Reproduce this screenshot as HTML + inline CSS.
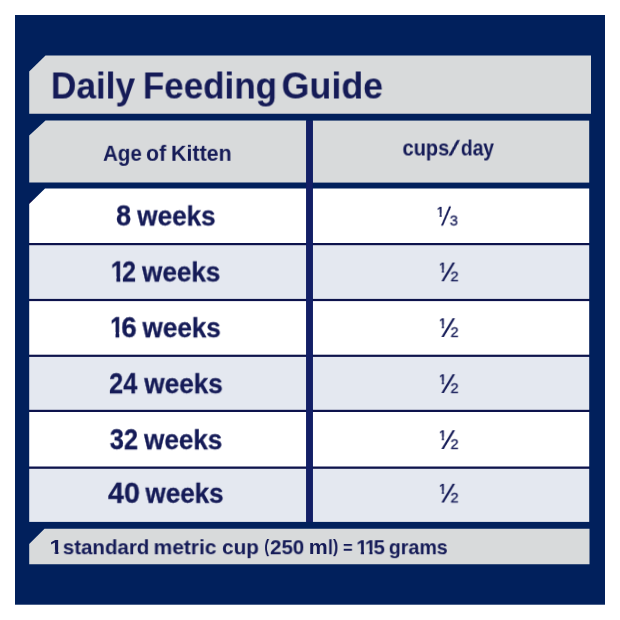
<!DOCTYPE html>
<html>
<head>
<meta charset="utf-8">
<title>Daily Feeding Guide</title>
<style>
html,body{margin:0;padding:0;background:#fff;}
body{width:620px;height:620px;position:relative;overflow:hidden;font-family:"Liberation Sans",sans-serif;color:#151b57;}
svg{position:absolute;left:0;top:0;display:block;}
.t{position:absolute;white-space:nowrap;font-weight:bold;line-height:1;transform-origin:0 0;will-change:transform;}
.fr{font-weight:normal;-webkit-text-stroke:.3px #151b57;}
.rw{-webkit-text-stroke:.3px #151b57;}
.sl{-webkit-text-stroke:.4px #151b57;}
</style>
</head>
<body>
<svg width="620" height="620" viewBox="0 0 620 620">
  <rect x="0" y="0" width="620" height="620" fill="#ffffff"/>
  <rect x="15" y="15" width="590" height="589.7" fill="#01205c"/>
  <!-- title -->
  <polygon points="45.5,55.5 591,55.5 591,113.8 29.2,113.8 29.2,71.5" fill="#d8dadb"/>
  <!-- header cells -->
  <polygon points="45.5,120.6 306.2,120.6 306.2,182.6 29.2,182.6 29.2,135.6" fill="#d8dadb"/>
  <rect x="312.8" y="120.6" width="276.4" height="62" fill="#d8dadb"/>
  <!-- thin row lines (drawn under rows as one dark band) -->
  <rect x="29.2" y="200" width="277" height="300" fill="#0d134c"/>
  <rect x="312.8" y="200" width="276.4" height="300" fill="#0d134c"/>
  <!-- rows -->
  <polygon points="45,188.5 306.2,188.5 306.2,243 29.2,243 29.2,204" fill="#ffffff"/>
  <rect x="312.8" y="188.5" width="276.4" height="54.5" fill="#ffffff"/>
  <rect x="29.2" y="245.2" width="277" height="53.7" fill="#e4e8f0"/>
  <rect x="312.8" y="245.2" width="276.4" height="53.7" fill="#e4e8f0"/>
  <rect x="29.2" y="301.1" width="277" height="53.6" fill="#ffffff"/>
  <rect x="312.8" y="301.1" width="276.4" height="53.6" fill="#ffffff"/>
  <rect x="29.2" y="356.9" width="277" height="52.9" fill="#e4e8f0"/>
  <rect x="312.8" y="356.9" width="276.4" height="52.9" fill="#e4e8f0"/>
  <rect x="29.2" y="412" width="277" height="54.5" fill="#ffffff"/>
  <rect x="312.8" y="412" width="276.4" height="54.5" fill="#ffffff"/>
  <rect x="29.2" y="468.8" width="277" height="53.1" fill="#e4e8f0"/>
  <rect x="312.8" y="468.8" width="276.4" height="53.1" fill="#e4e8f0"/>
  <!-- column divider -->
  <rect x="306.2" y="120.6" width="6.6" height="401.3" fill="#131f66"/>
  <!-- footer -->
  <polygon points="44.5,528.8 589.5,528.8 589.5,564.2 29.2,564.2 29.2,544" fill="#d8dadb"/>
</svg>
<div class="t" style="left:50px;top:67px;font-size:37px;transform:translate(0.85px,0.50px) scaleX(0.9535);">Daily</div>
<div class="t" style="left:142px;top:67px;font-size:37px;transform:translate(0.87px,0.50px) scaleX(0.9457);">Feeding</div>
<div class="t" style="left:281px;top:67px;font-size:37px;transform:translate(0.55px,0.50px) scaleX(0.9682);">Guide</div>
<div class="t" style="left:103px;top:143px;font-size:21.5px;transform:translate(0.02px,0.80px) scaleX(0.9544);">Age</div>
<div class="t" style="left:146px;top:143px;font-size:21.5px;transform:translate(0.06px,0.80px) scaleX(0.9823);">of</div>
<div class="t" style="left:170px;top:143px;font-size:21.5px;transform:translate(0.95px,0.80px) scaleX(0.9966);">Kitten</div>
<div class="t" style="left:402px;top:138px;font-size:21.5px;transform:translate(0.50px,0.50px) scaleX(0.9313);">cups</div>
<div class="t sl" style="left:454px;top:138px;font-size:21.5px;transform:translate(0.33px,0.50px) scaleX(1.0311) skewX(-18deg);">/</div>
<div class="t" style="left:460px;top:138px;font-size:21.5px;transform:translate(0.83px,0.50px) scaleX(0.8966);">day</div>
<div class="t rw" style="left:116px;top:201px;font-size:29px;transform:translate(0.10px,0.50px) scaleX(0.9288);">8</div>
<div class="t rw" style="left:137px;top:202px;font-size:27.5px;transform:translate(0.24px,0.50px) scaleX(0.9488);">weeks</div>
<div class="t one rw" style="left:110px;top:257px;font-size:29px;clip-path:polygon(0 0,1em 0,1em 19.04px,.38em 19.04px,.38em 1.3em,.225em 1.3em,.225em 19.04px,0 19.04px);transform:translate(0.67px,0.50px) scaleX(0.8737);">1</div>
<div class="t rw" style="left:122px;top:257px;font-size:29px;transform:translate(0.16px,0.50px) scaleX(0.8552);">2</div>
<div class="t rw" style="left:142px;top:258px;font-size:27.5px;transform:translate(0.04px,0.50px) scaleX(0.9476);">weeks</div>
<div class="t one rw" style="left:110px;top:313px;font-size:29px;clip-path:polygon(0 0,1em 0,1em 19.04px,.38em 19.04px,.38em 1.3em,.225em 1.3em,.225em 19.04px,0 19.04px);transform:translate(0.03px,0.20px) scaleX(0.8421);">1</div>
<div class="t rw" style="left:121px;top:313px;font-size:29px;transform:translate(0.29px,0.20px) scaleX(0.9517);">6</div>
<div class="t rw" style="left:142px;top:314px;font-size:27.5px;transform:translate(0.44px,0.20px) scaleX(0.9488);">weeks</div>
<div class="t rw" style="left:109px;top:369px;font-size:29px;transform:translate(0.15px,0.20px) scaleX(0.8698);">24</div>
<div class="t rw" style="left:144px;top:370px;font-size:27.5px;transform:translate(0.24px,0.20px) scaleX(0.9512);">weeks</div>
<div class="t rw" style="left:109px;top:425px;font-size:29px;transform:translate(0.76px,0.20px) scaleX(0.8715);">32</div>
<div class="t rw" style="left:144px;top:426px;font-size:27.5px;transform:translate(0.04px,0.20px) scaleX(0.9476);">weeks</div>
<div class="t rw" style="left:107px;top:478px;font-size:29px;transform:translate(0.95px,0.80px) scaleX(0.9871);">40</div>
<div class="t rw" style="left:145px;top:479px;font-size:27.5px;transform:translate(0.44px,0.80px) scaleX(0.9463);">weeks</div>
<div class="t one" style="left:49px;top:536px;font-size:21px;clip-path:polygon(0 0,1em 0,1em 13.86px,.38em 13.86px,.38em 1.3em,.225em 1.3em,.225em 13.86px,0 13.86px);transform:translate(0.61px,0.20px) scaleX(1.1111);">1</div>
<div class="t" style="left:62px;top:536px;font-size:21px;transform:translate(0.77px,0.20px) scaleX(0.9764);">standard</div>
<div class="t" style="left:153px;top:536px;font-size:21px;transform:translate(0.55px,0.20px) scaleX(0.9992);">metric</div>
<div class="t" style="left:222px;top:536px;font-size:21px;transform:translate(0.06px,0.20px) scaleX(0.9846);">cup</div>
<div class="t" style="left:270px;top:536px;font-size:21px;transform:translate(0.01px,0.20px) scaleX(0.9778);">250</div>
<div class="t" style="left:308px;top:536px;font-size:21px;transform:translate(0.73px,0.20px) scaleX(1.0154);">m</div>
<div class="t" style="left:327px;top:536px;font-size:21px;transform:translate(0.92px,0.20px) scaleX(0.8615);">l</div>
<div class="t one" style="left:356px;top:536px;font-size:21px;clip-path:polygon(0 0,1em 0,1em 13.86px,.38em 13.86px,.38em 1.3em,.225em 1.3em,.225em 13.86px,0 13.86px);transform:translate(0.30px,0.20px) scaleX(0.9630);">1</div>
<div class="t one" style="left:364px;top:536px;font-size:21px;clip-path:polygon(0 0,1em 0,1em 13.86px,.38em 13.86px,.38em 1.3em,.225em 1.3em,.225em 13.86px,0 13.86px);transform:translate(0.80px,0.20px) scaleX(0.9630);">1</div>
<div class="t" style="left:373px;top:536px;font-size:21px;transform:translate(0.51px,0.20px) scaleX(0.9767);">5</div>
<div class="t" style="left:388px;top:536px;font-size:21px;transform:translate(0.80px,0.20px) scaleX(0.9350);">grams</div>
<div class="t" style="left:264px;top:536px;font-size:21px;transform:translate(0.30px,0.28px) scale(0.7000,0.9042);">(</div>
<div class="t" style="left:333px;top:536px;font-size:21px;transform:translate(0.00px,0.28px) scale(0.7500,0.9042);">)</div>
<div class="t" style="left:342px;top:538px;font-size:21px;transform:translate(0.91px,0.02px) scale(0.7907,0.8442);">=</div>
<div class="t one" style="left:436px;top:203px;font-size:15px;clip-path:polygon(0 0,1em 0,1em 9.47px,.38em 9.47px,.38em 1.3em,.225em 1.3em,.225em 9.47px,0 9.47px);transform:translate(0.61px,0.84px) scale(0.8947,0.9932);">1</div>
<div class="t sl" style="left:444px;top:202px;font-size:28px;transform:translate(0.58px,0.72px) scale(0.6508,0.9840);">⁄</div>
<div class="t fr" style="left:449px;top:212px;font-size:15px;transform:translate(0.76px,0.66px) scale(0.9677,0.9844);">3</div>
<div class="t one" style="left:438px;top:259px;font-size:15px;clip-path:polygon(0 0,1em 0,1em 9.47px,.38em 9.47px,.38em 1.3em,.225em 1.3em,.225em 9.47px,0 9.47px);transform:translate(0.86px,0.59px) scale(0.8947,0.9932);">1</div>
<div class="t" style="left:446px;top:258px;font-size:28px;transform:translate(0.06px,0.56px) scale(0.9167,0.9863);">⁄</div>
<div class="t fr" style="left:450px;top:268px;font-size:15px;transform:translate(0.52px,0.74px) scale(0.9655,0.9514);">2</div>
<div class="t one" style="left:438px;top:315px;font-size:15px;clip-path:polygon(0 0,1em 0,1em 9.47px,.38em 9.47px,.38em 1.3em,.225em 1.3em,.225em 9.47px,0 9.47px);transform:translate(0.86px,0.29px) scale(0.8947,0.9932);">1</div>
<div class="t" style="left:446px;top:314px;font-size:28px;transform:translate(0.06px,0.26px) scale(0.9167,0.9863);">⁄</div>
<div class="t fr" style="left:450px;top:324px;font-size:15px;transform:translate(0.52px,0.44px) scale(0.9655,0.9514);">2</div>
<div class="t one" style="left:438px;top:371px;font-size:15px;clip-path:polygon(0 0,1em 0,1em 9.47px,.38em 9.47px,.38em 1.3em,.225em 1.3em,.225em 9.47px,0 9.47px);transform:translate(0.86px,0.29px) scale(0.8947,0.9932);">1</div>
<div class="t" style="left:446px;top:370px;font-size:28px;transform:translate(0.06px,0.26px) scale(0.9167,0.9863);">⁄</div>
<div class="t fr" style="left:450px;top:380px;font-size:15px;transform:translate(0.52px,0.44px) scale(0.9655,0.9514);">2</div>
<div class="t one" style="left:438px;top:427px;font-size:15px;clip-path:polygon(0 0,1em 0,1em 9.47px,.38em 9.47px,.38em 1.3em,.225em 1.3em,.225em 9.47px,0 9.47px);transform:translate(0.86px,0.29px) scale(0.8947,0.9932);">1</div>
<div class="t" style="left:446px;top:426px;font-size:28px;transform:translate(0.06px,0.26px) scale(0.9167,0.9863);">⁄</div>
<div class="t fr" style="left:450px;top:436px;font-size:15px;transform:translate(0.52px,0.44px) scale(0.9655,0.9514);">2</div>
<div class="t one" style="left:438px;top:480px;font-size:15px;clip-path:polygon(0 0,1em 0,1em 9.47px,.38em 9.47px,.38em 1.3em,.225em 1.3em,.225em 9.47px,0 9.47px);transform:translate(0.86px,0.84px) scale(0.8947,0.9932);">1</div>
<div class="t" style="left:446px;top:479px;font-size:28px;transform:translate(0.06px,0.81px) scale(0.9167,0.9863);">⁄</div>
<div class="t fr" style="left:450px;top:489px;font-size:15px;transform:translate(0.52px,0.99px) scale(0.9655,0.9514);">2</div>
</body>
</html>
